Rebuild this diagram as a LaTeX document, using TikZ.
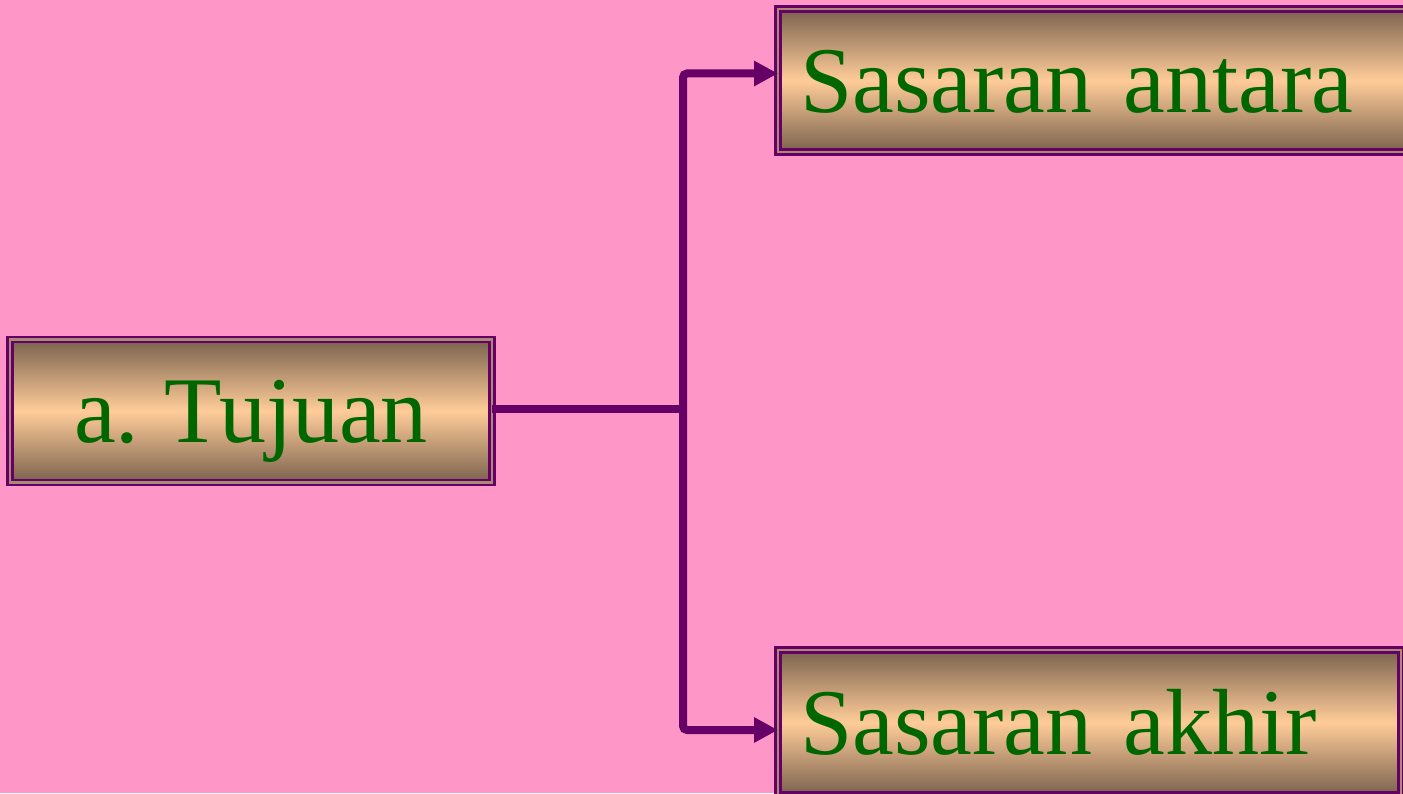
\documentclass[tikz,border=0pt]{standalone}
\usepackage{fontspec}
\setmainfont[WordSpace=0.75]{Liberation Serif}
\usetikzlibrary{arrows.meta}
\definecolor{bgpink}{RGB}{255,150,200}
\definecolor{boxpurple}{RGB}{102,0,102}
\definecolor{txtgreen}{RGB}{0,102,0}
\definecolor{darkbrown}{RGB}{122,98,78}
\definecolor{peach}{RGB}{255,204,153}
\definecolor{gapbrown}{RGB}{170,138,112}
\tikzset{
  gradbox/.style={rectangle, draw=boxpurple, line width=2.5pt, double=gapbrown, double distance=2.5pt,
    top color=darkbrown, bottom color=darkbrown, middle color=peach,
    font=\fontsize{94}{100}\selectfont, text=txtgreen, outer sep=0pt,
    text height=64pt, text depth=0pt},
  conn/.style={draw=boxpurple, line width=8pt, rounded corners=4pt},
  tipboth/.style={{Triangle[length=24pt,width=24pt]}-{Triangle[length=24pt,width=24pt]}}
}
\begin{document}
\begin{tikzpicture}[x=1pt,y=1pt]
\useasboundingbox (0,0) rectangle (1403,793);
\clip (0,0) rectangle (1403,793);
\fill[bgpink] (0,0) rectangle (1403,793);
\node[gradbox, minimum width=482pt, minimum height=143pt, inner sep=0pt] (t) at (251,382) {a. Tujuan};
\node[gradbox, anchor=west, minimum height=143pt, inner xsep=22pt, inner ysep=0pt, text width=588pt, align=left] (a) at (778,712.5) {Sasaran antara};
\node[gradbox, anchor=west, minimum height=145pt, inner xsep=22pt, inner ysep=0pt, text width=579pt, align=left] (b) at (778,70.5) {Sasaran akhir};
\coordinate (j) at (683,384);
\draw[conn] ([yshift=2pt]t.east) -- (j);
\draw[conn,tipboth] ([yshift=7pt]a.west) -| (j) |- ([yshift=-7.5pt]b.west);
\end{tikzpicture}
\end{document}
